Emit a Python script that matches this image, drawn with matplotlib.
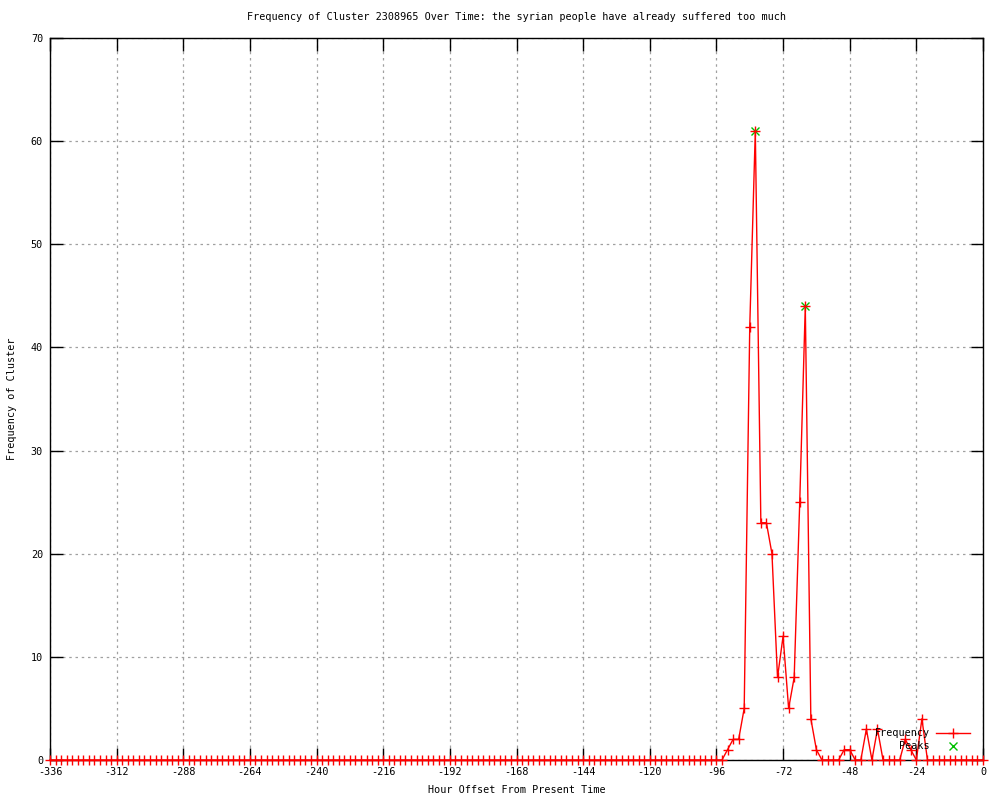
import matplotlib
matplotlib.use("Agg")
import matplotlib.pyplot as plt
from matplotlib.lines import Line2D

plt.rcParams['axes.unicode_minus'] = False
plt.rcParams['font.family'] = ['DejaVu Sans Mono']

title = "Frequency of Cluster 2308965 Over Time: the syrian people have already suffered too much"
xlabel = "Hour Offset From Present Time"
ylabel = "Frequency of Cluster"

hours = list(range(-336, 1, 2))
frequency = [
    0, 0, 0, 0, 0, 0, 0, 0, 0, 0, 0, 0, 0, 0, 0, 0, 0, 0, 0, 0,
    0, 0, 0, 0, 0, 0, 0, 0, 0, 0, 0, 0, 0, 0, 0, 0, 0, 0, 0, 0,
    0, 0, 0, 0, 0, 0, 0, 0, 0, 0, 0, 0, 0, 0, 0, 0, 0, 0, 0, 0,
    0, 0, 0, 0, 0, 0, 0, 0, 0, 0, 0, 0, 0, 0, 0, 0, 0, 0, 0, 0,
    0, 0, 0, 0, 0, 0, 0, 0, 0, 0, 0, 0, 0, 0, 0, 0, 0, 0, 0, 0,
    0, 0, 0, 0, 0, 0, 0, 0, 0, 0, 0, 0, 0, 0, 0, 0, 0, 0, 0, 0,
    0, 0,
    # -92 .. 0
    1, 2, 2, 5, 42, 61, 23, 23, 20, 8,
    12, 5, 8, 25, 44, 4, 1, 0, 0, 0,
    0, 1, 1, 0, 0, 3, 0, 3, 0, 0,
    0, 0, 2, 1, 0, 4, 0, 0, 0, 0,
    0, 0, 0, 0, 0, 0, 0,
]
peak_hours = [-82, -64]
peak_values = [61, 44]

xticks = list(range(-336, 1, 24))
yticks = list(range(0, 71, 10))

fs = 7.3
fig = plt.figure(figsize=(10, 8), dpi=100)
ax = fig.add_axes([0.05, 0.05, 0.933, 0.9025])

ax.plot(peak_hours, peak_values, ls='none', color='#00c000', marker='x',
        ms=6, mew=1.0, clip_on=False, zorder=3)
ax.plot(hours, frequency, color='red', lw=1.0, marker='+', ms=6.5, mew=1.0,
        clip_on=False, zorder=4)

ax.set_xlim(-336, 0)
ax.set_ylim(0, 70)
ax.set_xticks(xticks)
ax.set_yticks(yticks)
ax.tick_params(direction='in', length=9, width=1, top=True, right=True,
               labelsize=fs, pad=5, colors='black')
ax.grid(True, color='#a0a0a0', linestyle=(0, (2, 3)), lw=0.9)
ax.set_axisbelow(True)
for s in ax.spines.values():
    s.set_linewidth(1.0)
    s.set_color('black')

ax.set_title(title, fontsize=fs, pad=13)
ax.set_xlabel(xlabel, fontsize=fs, labelpad=6)
ax.set_ylabel(ylabel, fontsize=fs, labelpad=10)

# gnuplot-style key, lower right
ax.text(0.943, 0.0374, "Frequency", transform=ax.transAxes, ha='right',
        va='center', fontsize=fs, zorder=5)
ax.text(0.943, 0.0194, "Peaks", transform=ax.transAxes, ha='right',
        va='center', fontsize=fs, zorder=5)
ax.add_line(Line2D([0.9496, 0.986], [0.0374, 0.0374], transform=ax.transAxes,
                   color='red', lw=1.0, zorder=5))
ax.add_line(Line2D([0.9678], [0.0374], transform=ax.transAxes, color='red',
                   marker='+', ms=6.5, mew=1.0, zorder=5))
ax.add_line(Line2D([0.9678], [0.0194], transform=ax.transAxes, color='#00c000',
                   marker='x', ms=6, mew=1.0, ls='none', zorder=5))

fig.savefig("out.png", dpi=100)
